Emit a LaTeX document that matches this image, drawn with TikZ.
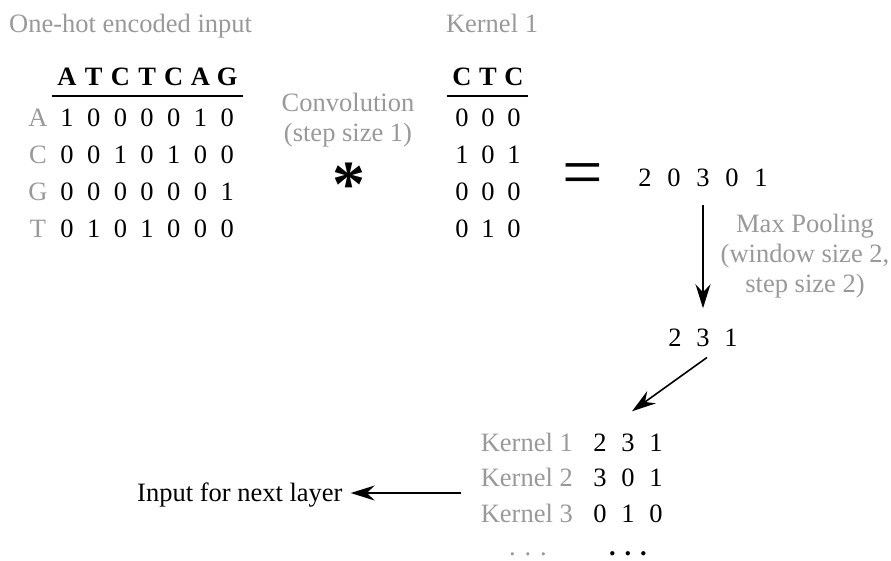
\documentclass[tikz,border=0pt]{standalone}
\usepackage{fontspec}
\setmainfont{Liberation Serif}
\usetikzlibrary{arrows.meta}
\definecolor{labelgray}{HTML}{999999}

\begin{document}
\begin{tikzpicture}[x=1pt, y=-1pt, >={Stealth[length=24pt, width=15pt, inset=8pt]},
  every node/.style={inner sep=0pt, font=\fontsize{26.5}{30}\selectfont},
  lbl/.style={text=labelgray},
  cell/.style={anchor=base},
  hd/.style={anchor=base, font=\fontsize{26.5}{30}\selectfont\bfseries},
  arr/.style={->, line width=1.6pt}]
\useasboundingbox (0,0) rectangle (891,560);
% 标题
\node[lbl, anchor=base west] (intitle) at (9,32) {One-hot encoded input};
\node[lbl, anchor=base] (ktitle) at (492,32) {Kernel 1};
% 输入序列的 one-hot 矩阵
\foreach \s [count=\j] in {A,T,C,T,C,A,G}
  \node[hd] (seq-\j) at ({40.3+26.7*\j},85) {\s};
\draw[line width=1.3pt] (52,96) -- (243,96);
\foreach \b/\bits [count=\i] in {A/{1,0,0,0,0,1,0}, C/{0,0,1,0,1,0,0},
                                 G/{0,0,0,0,0,0,1}, T/{0,1,0,1,0,0,0}} {
  \node[lbl, cell] (base-\i) at (38,{89+37*\i}) {\b};
  \foreach \v [count=\j] in \bits
    \node[cell] (in-\i-\j) at ({40.3+26.7*\j},{89+37*\i}) {\v};
}
% 卷积
\node[lbl, align=center] (conv) at (348,119.8) {Convolution\\(step size 1)};
\node[anchor=base, font=\fontsize{66}{66}\selectfont\bfseries] (ast) at (349,206) {*};
% 卷积核
\foreach \s [count=\j] in {C,T,C}
  \node[hd] (kseq-\j) at ({436+26*\j},85) {\s};
\draw[line width=1.3pt] (447,96) -- (528,96);
\foreach \bits [count=\i] in {{0,0,0},{1,0,1},{0,0,0},{0,1,0}}
  \foreach \v [count=\j] in \bits
    \node[cell] (k-\i-\j) at ({436+26*\j},{89+37*\i}) {\v};
% 卷积输出
\node[anchor=base, font=\fontsize{72}{72}\selectfont] (eq) at (583,196) {=};
\foreach \v [count=\j] in {2,0,3,0,1}
  \node[cell] (out-\j) at ({616+29*\j},186) {\v};
% 最大池化
\foreach \v [count=\j] in {2,3,1}
  \node[cell] (pool-\j) at ({647+28*\j},346) {\v};
\draw[arr, shorten <=19pt, shorten >=20pt] (out-3.south) -- (pool-2.north);
\node[lbl, align=center] (maxpool) at (805,255.8) {Max Pooling\\(window size 2,\\step size 2)};
% 各卷积核的结果
\foreach \bits [count=\i] in {{2,3,1},{3,0,1},{0,1,0}} {
  \node[lbl, anchor=base east] (stack-\i) at (573,{415.5+35.5*\i}) {Kernel \i};
  \foreach \v [count=\j] in \bits
    \node[cell] (st-\i-\j) at ({572+28*\j},{415.5+35.5*\i}) {\v};
}
\node[lbl, cell] (moredots) at (528,555) {. . .};
\node[cell, font=\fontsize{26.5}{30}\selectfont\bfseries] (morevals) at (628,555) {. . .};
\draw[arr] ([shift={(4,11)}]pool-2.south) -- ([shift={(4,-22)}]st-1-2.north);
% 下一层
\node[anchor=base west] (nextin) at (137,501) {Input for next layer};
\coordinate (stackout) at (461,493);
\draw[arr, shorten >=8pt] (stackout) -- (stackout -| nextin.east);
\end{tikzpicture}
\end{document}
